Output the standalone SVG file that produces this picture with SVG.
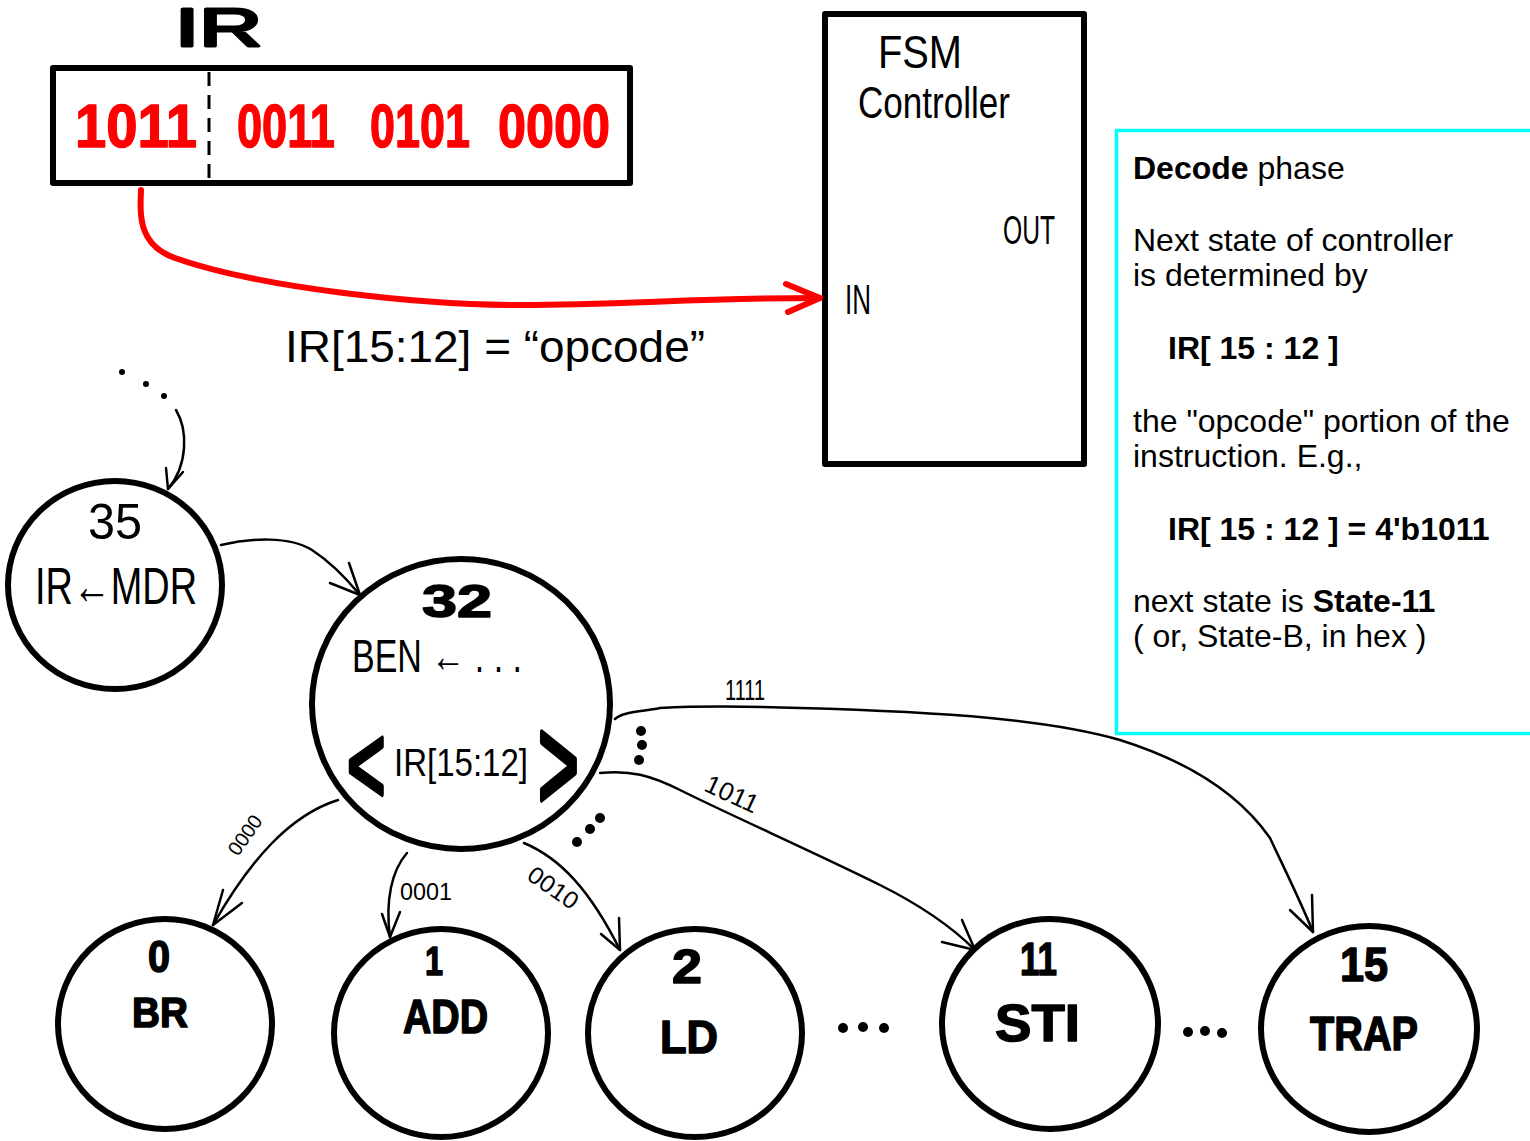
<svg xmlns="http://www.w3.org/2000/svg" width="1530" height="1141" viewBox="0 0 1530 1141">
  <style>
    .box { fill: none; stroke: #000; stroke-width: 6; stroke-linejoin: round; }
    .node { fill: none; stroke: #000; stroke-width: 6; }
    .edge { fill: none; stroke: #000; stroke-width: 2.5; stroke-linecap: round; stroke-linejoin: round; }
    .hand { font-family: "Liberation Sans", "DejaVu Sans", sans-serif; fill: #000; }
    .bold { font-family: "Liberation Sans", "DejaVu Sans", sans-serif; font-weight: bold; fill: #000; stroke: #000; stroke-width: 1.5; stroke-linejoin: round; }
    .mark { font-family: "Liberation Sans", "DejaVu Sans", sans-serif; fill: #000; stroke: #000; stroke-width: 3; stroke-linejoin: round; stroke-linecap: round; }
    .bits { font-family: "Liberation Sans", "DejaVu Sans", sans-serif; font-weight: bold; fill: #ff0000; stroke: #ff0000; stroke-width: 1.5; stroke-linejoin: round; }
    .note { font-family: "Liberation Sans", Arial, sans-serif; font-size: 32px; fill: #000; }
    .b { font-weight: bold; }
    .dot { fill: #000; }
  </style>

  <!-- Instruction register -->
  <g id="ir">
    <text class="mark" x="175" y="46" font-size="54" stroke-width="2" textLength="87" lengthAdjust="spacingAndGlyphs">IR</text>
    <rect class="box" x="53" y="68" width="577" height="115"/>
    <line x1="209" y1="72" x2="209" y2="181" stroke="#000" stroke-width="3" stroke-dasharray="14 9"/>
    <text class="bits" x="75" y="147" font-size="62" textLength="122" lengthAdjust="spacingAndGlyphs">1011</text>
    <text class="bits" x="237" y="147" font-size="62" textLength="98" lengthAdjust="spacingAndGlyphs">0011</text>
    <text class="bits" x="370" y="147" font-size="62" textLength="100" lengthAdjust="spacingAndGlyphs">0101</text>
    <text class="bits" x="498" y="147" font-size="62" textLength="112" lengthAdjust="spacingAndGlyphs">0000</text>
  </g>

  <!-- FSM controller block -->
  <g id="fsm">
    <rect class="box" x="825" y="14" width="259" height="450"/>
    <text class="hand" x="878" y="68" font-size="46" textLength="84" lengthAdjust="spacingAndGlyphs">FSM</text>
    <text class="hand" x="858" y="118" font-size="44" textLength="152" lengthAdjust="spacingAndGlyphs">Controller</text>
    <text class="hand" x="1003" y="244" font-size="40" textLength="52" lengthAdjust="spacingAndGlyphs">OUT</text>
    <text class="hand" x="845" y="314" font-size="42" textLength="26" lengthAdjust="spacingAndGlyphs">IN</text>
  </g>

  <!-- Opcode field label -->
  <g id="opcode-label">
    <text class="hand" x="285" y="362" font-size="44" textLength="420" lengthAdjust="spacingAndGlyphs">IR[15:12] = “opcode”</text>
  </g>

  <!-- Explanation panel -->
  <g id="notes">
    <rect x="1116.5" y="130.5" width="430" height="603" fill="none" stroke="#00ffff" stroke-width="3.5"/>
    <text class="note" x="1133" y="179"><tspan class="b">Decode</tspan> phase</text>
    <text class="note" x="1133" y="251">Next state of controller</text>
    <text class="note" x="1133" y="286">is determined by</text>
    <text class="note b" x="1168" y="359">IR[ 15 : 12 ]</text>
    <text class="note" x="1133" y="432">the "opcode" portion of the</text>
    <text class="note" x="1133" y="467">instruction. E.g.,</text>
    <text class="note b" x="1168" y="540">IR[ 15 : 12 ] = 4'b1011</text>
    <text class="note" x="1133" y="612">next state is <tspan class="b">State-11</tspan></text>
    <text class="note" x="1133" y="647">( or, State-B, in hex )</text>
  </g>

  <!-- State 35 -->
  <g id="state-35">
    <ellipse class="node" cx="115" cy="585" rx="107" ry="104"/>
    <text class="hand" x="88" y="539" font-size="50" textLength="54" lengthAdjust="spacingAndGlyphs">35</text>
    <text class="hand" x="35" y="604" font-size="52" textLength="162" lengthAdjust="spacingAndGlyphs">IR←MDR</text>
  </g>

  <!-- State 32 -->
  <g id="state-32">
    <ellipse class="node" cx="461" cy="704" rx="149" ry="145"/>
    <text class="bold" x="422" y="617" font-size="46" textLength="70" lengthAdjust="spacingAndGlyphs">32</text>
    <text class="hand" x="352" y="672" font-size="46" textLength="170" lengthAdjust="spacingAndGlyphs">BEN ← . . .</text>
    <text class="mark" transform="translate(347,803) scale(1,1.7)" x="0" y="0" font-size="66" stroke-width="4">&lt;</text>
    <text class="hand" transform="translate(394,776) scale(1,1.2)" x="0" y="0" font-size="33" textLength="134" lengthAdjust="spacingAndGlyphs">IR[15:12]</text>
    <text class="mark" transform="translate(538,810) scale(1,1.9)" x="0" y="0" font-size="70" stroke-width="4">&gt;</text>
  </g>

  <!-- State 0 -->
  <g id="state-0">
    <ellipse class="node" cx="165" cy="1024" rx="107" ry="105"/>
    <text class="bold" x="148" y="972" font-size="44" textLength="22" lengthAdjust="spacingAndGlyphs">0</text>
    <text class="bold" x="132" y="1027" font-size="43" textLength="56" lengthAdjust="spacingAndGlyphs">BR</text>
  </g>

  <!-- State 1 -->
  <g id="state-1">
    <ellipse class="node" cx="441" cy="1033" rx="107" ry="104"/>
    <text class="bold" x="425" y="975" font-size="40" textLength="18" lengthAdjust="spacingAndGlyphs">1</text>
    <text class="bold" x="403" y="1033" font-size="48" textLength="85" lengthAdjust="spacingAndGlyphs">ADD</text>
  </g>

  <!-- State 2 -->
  <g id="state-2">
    <ellipse class="node" cx="695" cy="1033" rx="107" ry="104"/>
    <text class="bold" x="672" y="983" font-size="48" textLength="30" lengthAdjust="spacingAndGlyphs">2</text>
    <text class="bold" x="660" y="1053" font-size="46" textLength="58" lengthAdjust="spacingAndGlyphs">LD</text>
  </g>

  <!-- State 11 -->
  <g id="state-11">
    <ellipse class="node" cx="1050" cy="1024" rx="108" ry="105"/>
    <text class="bold" x="1020" y="975" font-size="46" textLength="37" lengthAdjust="spacingAndGlyphs">11</text>
    <text class="bold" x="995" y="1041" font-size="52" textLength="85" lengthAdjust="spacingAndGlyphs">STI</text>
  </g>

  <!-- State 15 -->
  <g id="state-15">
    <ellipse class="node" cx="1369" cy="1029" rx="108" ry="103"/>
    <text class="bold" x="1340" y="981" font-size="48" textLength="48" lengthAdjust="spacingAndGlyphs">15</text>
    <text class="bold" x="1310" y="1050" font-size="48" textLength="108" lengthAdjust="spacingAndGlyphs">TRAP</text>
  </g>

  <!-- Ellipsis marks between states -->
  <g id="ellipses">
    <circle class="dot" cx="122" cy="372" r="3"/>
    <circle class="dot" cx="146" cy="384" r="3"/>
    <circle class="dot" cx="164" cy="396" r="3"/>
    <circle class="dot" cx="641" cy="731" r="5"/>
    <circle class="dot" cx="642" cy="745" r="5"/>
    <circle class="dot" cx="639" cy="760" r="5"/>
    <circle class="dot" cx="600" cy="818" r="5"/>
    <circle class="dot" cx="590" cy="829" r="5"/>
    <circle class="dot" cx="577" cy="842" r="5"/>
    <circle class="dot" cx="843" cy="1028" r="5"/>
    <circle class="dot" cx="863" cy="1027" r="5"/>
    <circle class="dot" cx="884" cy="1028" r="5"/>
    <circle class="dot" cx="1188" cy="1032" r="5"/>
    <circle class="dot" cx="1205" cy="1031" r="5"/>
    <circle class="dot" cx="1222" cy="1033" r="5"/>
  </g>

  <!-- Connectors -->
  <g id="connectors">
    <!-- opcode into controller -->
    <path d="M141,190 C140,215 138,245 175,258 C260,288 420,305 520,305 C620,305 700,298 818,298" fill="none" stroke="#ff0000" stroke-width="6" stroke-linecap="round"/>
    <path d="M786,284 L820,298 L788,312" fill="none" stroke="#ff0000" stroke-width="6" stroke-linecap="round" stroke-linejoin="round"/>

    <!-- previous state into 35 -->
    <path class="edge" d="M176,410 C188,430 188,465 168,489"/>
    <path class="edge" d="M166,468 L168,489 L183,472"/>

    <!-- 35 to 32 -->
    <path class="edge" d="M221,545 C250,538 290,536 312,550 C332,563 346,578 360,595"/>
    <path class="edge" d="M349,563 L360,595 L330,583"/>

    <!-- 32 to 0 -->
    <path class="edge" d="M338,800 C290,815 250,860 213,925"/>
    <path class="edge" d="M223,890 L213,925 L242,903"/>
    <text class="hand" transform="translate(245,835) rotate(-55)" x="-22" y="7" font-size="20" textLength="44" lengthAdjust="spacingAndGlyphs">0000</text>

    <!-- 32 to 1 -->
    <path class="edge" d="M407,853 C392,870 385,900 390,937"/>
    <path class="edge" d="M382,914 L390,937 L400,912"/>
    <text class="hand" x="400" y="900" font-size="24" textLength="52" lengthAdjust="spacingAndGlyphs">0001</text>

    <!-- 32 to 2 -->
    <path class="edge" d="M524,843 C560,858 590,890 620,950"/>
    <path class="edge" d="M601,934 L620,950 L619,918"/>
    <text class="hand" transform="translate(553,888) rotate(35)" x="-28" y="8" font-size="24" textLength="56" lengthAdjust="spacingAndGlyphs">0010</text>

    <!-- 32 to 11 -->
    <path class="edge" d="M600,773 C630,770 650,775 680,790 C730,815 820,855 880,885 C920,905 950,925 975,950"/>
    <path class="edge" d="M942,942 L975,950 L962,920"/>
    <text class="hand" transform="translate(732,794) rotate(25)" x="-28" y="9" font-size="26" textLength="56" lengthAdjust="spacingAndGlyphs">1011</text>

    <!-- 32 to 15 -->
    <path class="edge" d="M615,719 C622,712 640,712 660,708 C700,706 740,706 800,708 C950,712 1050,720 1120,740 C1190,762 1240,795 1270,838 C1285,870 1300,900 1313,932"/>
    <path class="edge" d="M1290,910 L1313,932 L1312,895"/>
    <text class="hand" x="725" y="700" font-size="30" textLength="40" lengthAdjust="spacingAndGlyphs">1111</text>
  </g>
</svg>
